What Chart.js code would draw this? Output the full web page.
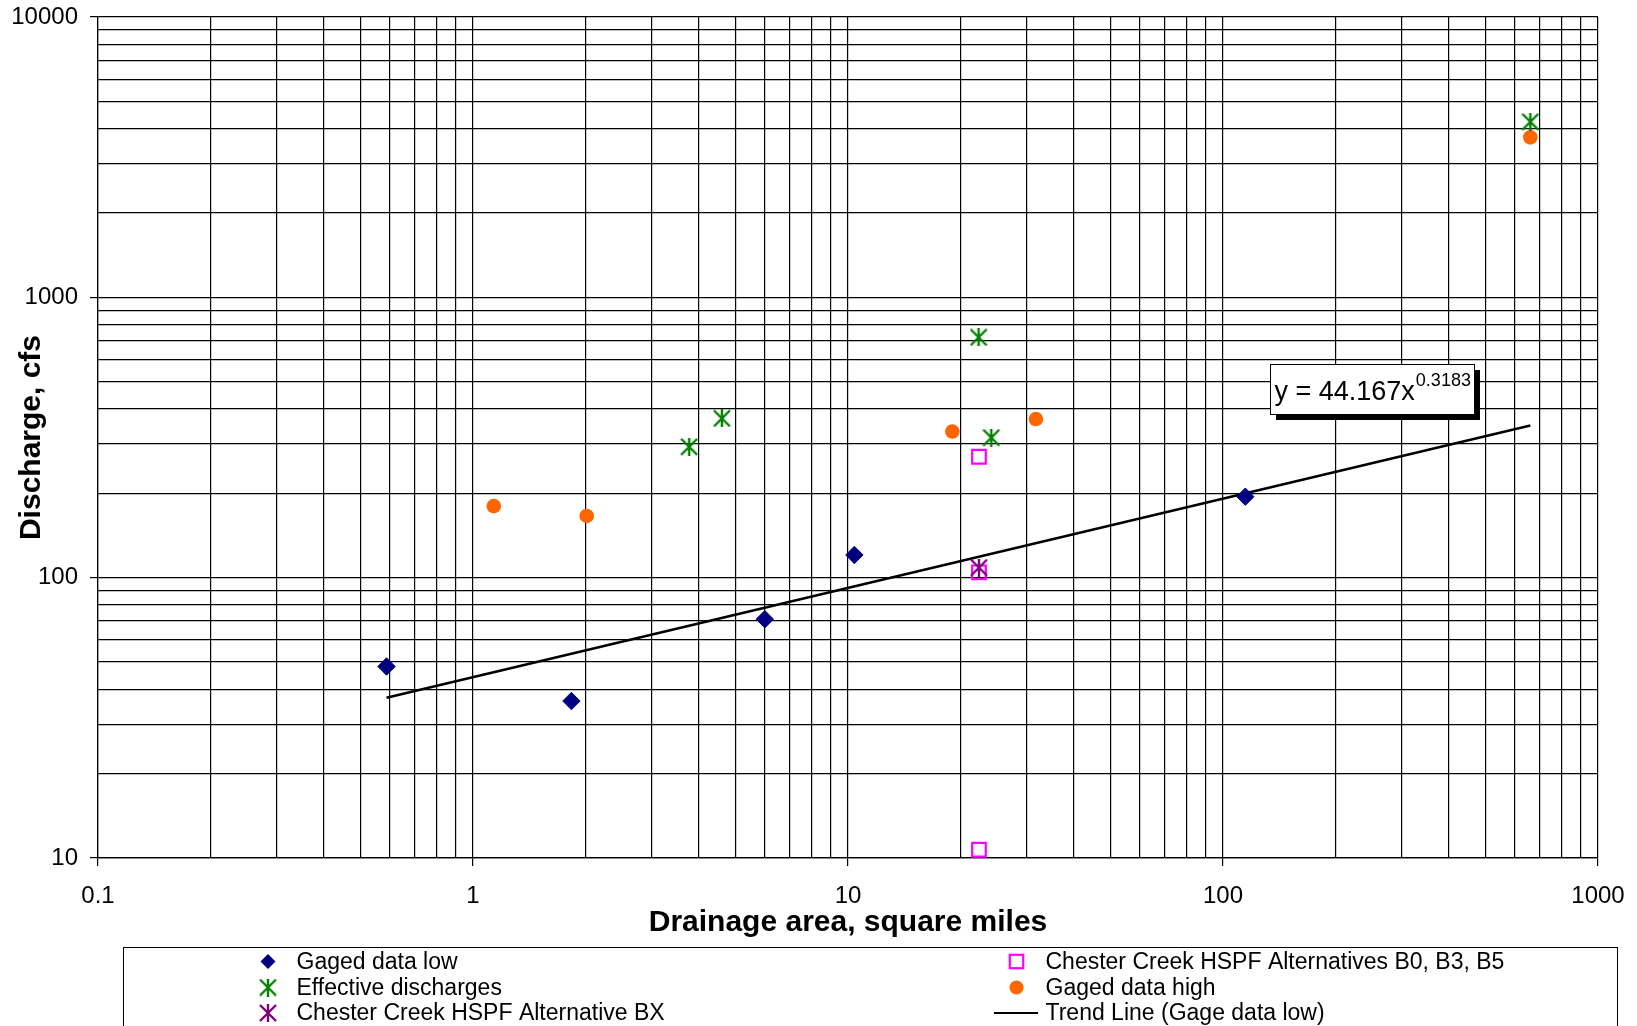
<!DOCTYPE html>
<html>
<head>
<meta charset="utf-8">
<script src="https://cdn.jsdelivr.net/npm/chart.js@4/dist/chart.umd.min.js"></script>
<style>
  html, body { margin: 0; padding: 0; background: #fff; overflow: hidden; }
  #wrap { width: 1637px; height: 1026px; position: relative; }
</style>
</head>
<body>
<div id="wrap"><canvas id="c" width="1637" height="1026"></canvas></div>
<script>
// Drainage area (sq mi) and discharge (cfs) for each series
const gagedLowArea   = [0.588, 1.83, 6.00, 10.4, 114.7];
const gagedLowQ      = [48.2, 36.3, 71.1, 120.5, 194.5];
const effectiveArea  = [3.77, 4.61, 22.3, 24.1, 660];
const effectiveQ     = [293, 370, 720, 316, 4228];
const altBXArea      = [22.35];
const altBXQ         = [108.6];
const altB0Area      = [22.35, 22.35, 22.35];
const altB0Q         = [270, 104.5, 10.7];
const gagedHighArea  = [1.136, 2.01, 18.98, 31.7, 660];
const gagedHighQ     = [180, 166, 332, 368, 3721];

// Power trend fitted to the low gaged data: Q = a * A^b
const trendCoef = 44.167;
const trendExp  = 0.3183;
const trendArea = [0.588, 660];

const xTickLabels = ['0.1', '1', '10', '100', '1000'];
const yTickLabels = ['10', '100', '1000', '10000'];

const seriesNames = [
  'Gaged data low',
  'Effective discharges',
  'Chester Creek HSPF Alternative BX',
  'Chester Creek HSPF Alternatives B0, B3, B5',
  'Gaged data high',
  'Trend Line (Gage data low)'
];

const FONT = '"Liberation Sans", Arial, Helvetica, sans-serif';
const NAVY = '#000080', GREEN = '#008000', PURPLE = '#800080', MAGENTA = '#FF00FF', ORANGE = '#FF6600';

function pts(xs, ys) { return xs.map((x, i) => ({ x: x, y: ys[i] })); }

// Six-spoke asterisk marker (X plus vertical bar)
function asterisk(color) {
  const s = 18, c = document.createElement('canvas');
  c.width = s; c.height = s;
  const g = c.getContext('2d');
  g.strokeStyle = color; g.lineWidth = 2.4; g.lineCap = 'butt';
  g.beginPath();
  g.moveTo(1, 1); g.lineTo(17, 17);
  g.moveTo(17, 1); g.lineTo(1, 17);
  g.moveTo(9, 0); g.lineTo(9, 18);
  g.stroke();
  return c;
}
const starGreen = asterisk(GREEN);
const starPurple = asterisk(PURPLE);

// 1-9 x 10^k tick values across a log range
function logTicks(min, max) {
  const out = [];
  for (let k = Math.round(Math.log10(min)); k < Math.round(Math.log10(max)); k++) {
    for (let i = 1; i <= 9; i++) out.push(Number((i * Math.pow(10, k)).toPrecision(6)));
  }
  out.push(max);
  return out;
}

const trendData = trendArea.map(a => ({ x: a, y: trendCoef * Math.pow(a, trendExp) }));

const datasets = [
  { label: seriesNames[0], data: pts(gagedLowArea, gagedLowQ), pointStyle: 'rectRot', pointRadius: 8.7,
    backgroundColor: NAVY, borderColor: NAVY, pointBorderWidth: 1, showLine: false },
  { label: seriesNames[1], data: pts(effectiveArea, effectiveQ), pointStyle: starGreen, pointRadius: 9,
    backgroundColor: GREEN, borderColor: GREEN, showLine: false },
  { label: seriesNames[2], data: pts(altBXArea, altBXQ), pointStyle: starPurple, pointRadius: 9,
    backgroundColor: PURPLE, borderColor: PURPLE, showLine: false },
  { label: seriesNames[3], data: pts(altB0Area, altB0Q), pointStyle: 'rect', pointRadius: 9.6,
    backgroundColor: 'rgba(0,0,0,0)', borderColor: MAGENTA, pointBorderWidth: 2.2, showLine: false },
  { label: seriesNames[4], data: pts(gagedHighArea, gagedHighQ), pointStyle: 'circle', pointRadius: 7.3,
    backgroundColor: ORANGE, borderColor: ORANGE, pointBorderWidth: 0, showLine: false },
  { label: seriesNames[5], data: trendData, showLine: true, pointRadius: 0, borderColor: '#000',
    borderWidth: 2.5, backgroundColor: '#000', tension: 0, fill: false }
];

// Boxed trend equation with drop shadow
const equationPlugin = {
  id: 'equationBox',
  afterDatasetsDraw(chart) {
    const ctx = chart.ctx, ca = chart.chartArea;
    const left = ca.left + 1172, top = ca.top + 347, w = 204, h = 50;
    ctx.save();
    ctx.fillStyle = '#000';
    ctx.fillRect(left + 6, top + 6, w, h);
    ctx.fillStyle = '#fff';
    ctx.fillRect(left, top, w, h);
    ctx.strokeStyle = '#000'; ctx.lineWidth = 1;
    ctx.strokeRect(left + 0.5, top + 0.5, w, h);
    ctx.fillStyle = '#000';
    ctx.textBaseline = 'alphabetic'; ctx.textAlign = 'left';
    ctx.font = '27px ' + FONT;
    const main = 'y = ' + trendCoef + 'x';
    ctx.fillText(main, left + 4.5, top + 36);
    const mw = ctx.measureText(main).width;
    ctx.font = '18px ' + FONT;
    ctx.fillText(String(trendExp), left + 5.5 + mw, top + 22);
    ctx.restore();
  }
};

// Two-column legend box below the plot
const legendPlugin = {
  id: 'boxLegend',
  afterDraw(chart) {
    const ctx = chart.ctx;
    const boxL = 123, boxT = 947, boxR = 1617;
    const rows = [961.5, 987.5, 1013];
    const cols = [{ mark: 268, text: 296.5 }, { mark: 1016.5, text: 1045.5 }];
    const layout = [[0, 0, 0], [0, 1, 1], [0, 2, 2], [1, 0, 3], [1, 1, 4], [1, 2, 5]];
    ctx.save();
    ctx.strokeStyle = '#000'; ctx.lineWidth = 1;
    ctx.strokeRect(boxL + 0.5, boxT + 0.5, boxR - boxL, 200);
    ctx.font = '23px ' + FONT;
    ctx.textBaseline = 'middle'; ctx.textAlign = 'left';
    layout.forEach(([c, r, di]) => {
      const ds = chart.data.datasets[di];
      const mx = cols[c].mark, my = rows[r];
      const style = ds.pointStyle;
      ctx.save();
      if (di === 5) {
        ctx.strokeStyle = '#000'; ctx.lineWidth = 2;
        ctx.beginPath(); ctx.moveTo(994, my); ctx.lineTo(1038, my); ctx.stroke();
      } else if (style instanceof HTMLCanvasElement) {
        ctx.drawImage(style, mx - style.width / 2, my - style.height / 2);
      } else if (style === 'rectRot') {
        ctx.fillStyle = ds.backgroundColor;
        ctx.beginPath();
        ctx.moveTo(mx, my - 7.5); ctx.lineTo(mx + 7.5, my); ctx.lineTo(mx, my + 7.5); ctx.lineTo(mx - 7.5, my);
        ctx.closePath(); ctx.fill();
      } else if (style === 'rect') {
        ctx.strokeStyle = ds.borderColor; ctx.lineWidth = 2.2;
        ctx.strokeRect(mx - 6.7, my - 6.7, 13.4, 13.4);
      } else if (style === 'circle') {
        ctx.fillStyle = ds.backgroundColor;
        ctx.beginPath(); ctx.arc(mx, my, 7, 0, Math.PI * 2); ctx.fill();
      }
      ctx.restore();
      ctx.fillStyle = '#000';
      ctx.fillText(ds.label, cols[c].text, my + 1);
    });
    ctx.restore();
  }
};

const gridColor = '#000';
const gridWidth = 1.2;

new Chart(document.getElementById('c'), {
  type: 'scatter',
  data: { datasets: datasets },
  plugins: [equationPlugin, legendPlugin],
  options: {
    responsive: false,
    animation: false,
    devicePixelRatio: 1,
    layout: { padding: { top: 17, right: 39, bottom: 68, left: 0 } },
    plugins: { legend: { display: false }, tooltip: { enabled: false } },
    scales: {
      x: {
        type: 'logarithmic', min: 0.1, max: 1000,
        afterBuildTicks(scale) { scale.ticks = logTicks(0.1, 1000).map(v => ({ value: v })); },
        afterFit(scale) { scale.height = 100; scale.paddingLeft = 0; scale.paddingRight = 0; },
        ticks: {
          autoSkip: false, maxRotation: 0, minRotation: 0, padding: 16, color: '#000',
          font: { family: FONT, size: 24 },
          callback(v) { const s = String(v); return xTickLabels.includes(s) ? s : ''; }
        },
        grid: {
          color: gridColor, lineWidth: gridWidth, tickLength: 8,
          tickColor(ctx) { return ctx.tick && xTickLabels.includes(String(ctx.tick.value)) ? '#000' : 'rgba(0,0,0,0)'; }
        },
        border: { display: true, color: '#000', width: 1.2 },
        title: {
          display: true, text: 'Drainage area, square miles', color: '#000',
          font: { family: FONT, size: 30, weight: 'bold' }, padding: { top: 0, bottom: 17 }
        }
      },
      y: {
        type: 'logarithmic', min: 10, max: 10000,
        afterBuildTicks(scale) { scale.ticks = logTicks(10, 10000).map(v => ({ value: v })); },
        afterFit(scale) { scale.width = 98; scale.paddingTop = 0; scale.paddingBottom = 0; },
        ticks: {
          autoSkip: false, padding: 12, color: '#000',
          font: { family: FONT, size: 24 },
          callback(v) { const s = String(v); return yTickLabels.includes(s) ? s : ''; }
        },
        grid: {
          color: gridColor, lineWidth: gridWidth, tickLength: 8,
          tickColor(ctx) { return ctx.tick && yTickLabels.includes(String(ctx.tick.value)) ? '#000' : 'rgba(0,0,0,0)'; }
        },
        border: { display: true, color: '#000', width: 1.2 },
        title: {
          display: true, text: 'Discharge, cfs', color: '#000',
          font: { family: FONT, size: 30, weight: 'bold' }, padding: { top: 14, bottom: 0 }
        }
      }
    }
  }
});
</script>
</body>
</html>
